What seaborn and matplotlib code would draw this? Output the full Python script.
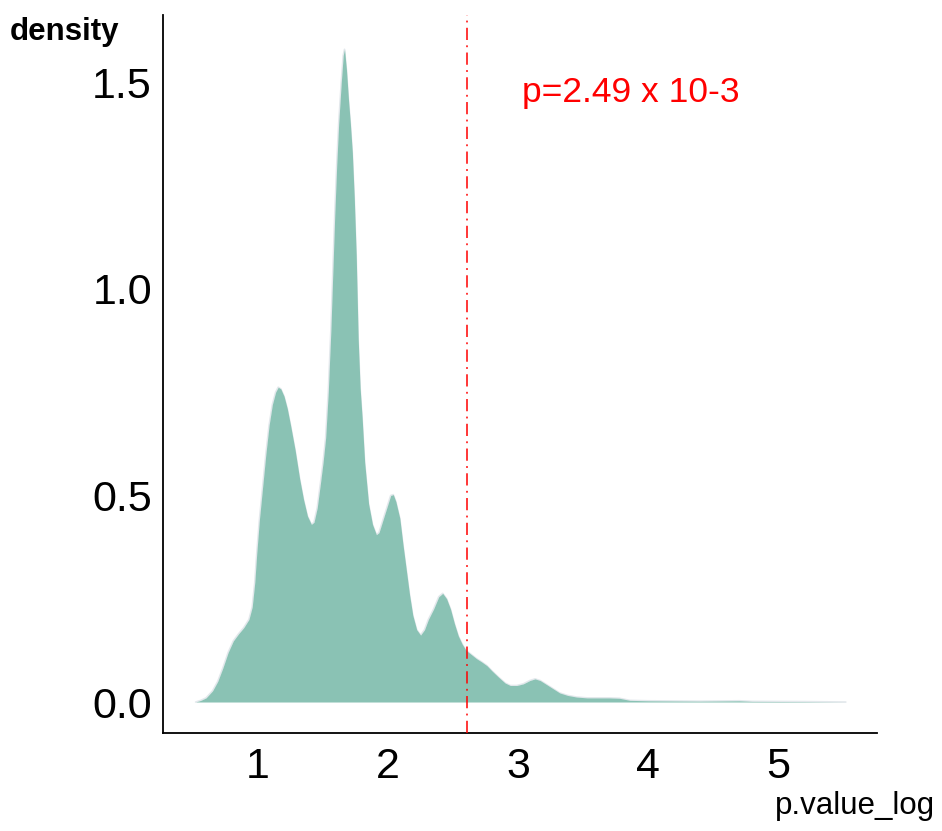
import matplotlib
matplotlib.use("Agg")
import matplotlib.pyplot as plt
import seaborn as sns
import numpy as np
import pandas as pd

# density curve
x_vals = [0.52, 0.56, 0.60, 0.65, 0.69, 0.73, 0.77, 0.81, 0.85, 0.89, 0.93, 0.955,
          0.975, 0.99, 1.01, 1.035, 1.06, 1.085, 1.11, 1.135, 1.155, 1.175, 1.20, 1.225,
          1.25, 1.285, 1.32, 1.35, 1.38, 1.41, 1.43, 1.455, 1.48, 1.50, 1.52, 1.54,
          1.56, 1.575, 1.59, 1.605, 1.62, 1.64, 1.655, 1.665, 1.68, 1.695, 1.71, 1.725,
          1.74, 1.755, 1.77, 1.785, 1.80, 1.82, 1.85, 1.88, 1.91, 1.93, 1.96, 1.99,
          2.02, 2.04, 2.06, 2.09, 2.115, 2.14, 2.165, 2.19, 2.22, 2.25, 2.28, 2.31,
          2.35, 2.39, 2.42, 2.45, 2.48, 2.51, 2.54, 2.57, 2.60, 2.64, 2.68, 2.72,
          2.76, 2.80, 2.85, 2.90, 2.94, 2.99, 3.04, 3.09, 3.13, 3.17, 3.22, 3.27,
          3.32, 3.38, 3.45, 3.53, 3.70, 3.78, 3.86, 4.00, 4.40, 4.70, 4.80, 5.20, 5.52]
y_vals = [0.0, 0.004, 0.010, 0.027, 0.05, 0.083, 0.12, 0.148, 0.165, 0.18, 0.20, 0.23,
          0.29, 0.36, 0.44, 0.52, 0.60, 0.67, 0.72, 0.75, 0.762, 0.758, 0.74, 0.71,
          0.67, 0.61, 0.54, 0.49, 0.45, 0.43, 0.435, 0.47, 0.53, 0.58, 0.64, 0.75,
          0.90, 1.04, 1.18, 1.30, 1.40, 1.50, 1.565, 1.58, 1.53, 1.46, 1.40, 1.33,
          1.22, 1.08, 0.88, 0.76, 0.69, 0.58, 0.48, 0.43, 0.405, 0.41, 0.44, 0.47,
          0.50, 0.502, 0.485, 0.445, 0.38, 0.32, 0.26, 0.21, 0.175, 0.162, 0.175, 0.20,
          0.225, 0.255, 0.263, 0.25, 0.225, 0.19, 0.16, 0.14, 0.125, 0.115, 0.105, 0.097,
          0.088, 0.075, 0.06, 0.046, 0.040, 0.040, 0.044, 0.052, 0.056, 0.052, 0.042, 0.032,
          0.022, 0.016, 0.012, 0.010, 0.010, 0.009, 0.004, 0.003, 0.002, 0.003, 0.0015, 0.001, 0.0]

threshold = 2.608
p_label = "p=2.49 x 10-3"
x_ticks = [1, 2, 3, 4, 5]
y_ticks = [0.0, 0.5, 1.0, 1.5]
y_ticklabels = ["0.0", "0.5", "1.0", "1.5"]

df = pd.DataFrame({"p.value_log": x_vals, "density": y_vals})

sns.set_theme(style="white")
plt.rcParams["font.family"] = ["Liberation Sans", "DejaVu Sans"]

fig = plt.figure(figsize=(9.42, 8.31), dpi=100)
ax = fig.add_axes([163 / 942, 98 / 831, (877 - 163) / 942, (733 - 15) / 831])

fill_col = "#8ac2b4"
ax.fill_between(df["p.value_log"], df["density"], 0, color=fill_col, linewidth=0, zorder=2)
sns.lineplot(data=df, x="p.value_log", y="density", ax=ax, color="#e3e8ec",
             linewidth=1.2, zorder=1, estimator=None, sort=False)

ax.axvline(threshold, color="red", linewidth=1.1, linestyle=(0, (8, 3.5, 1.2, 3.5)), zorder=3)
ax.text(3.03, 1.475, p_label, color="red", fontsize=25.5, ha="left", va="center")

ax.set_xlim(0.269, 5.76)
ax.set_ylim(-0.075, 1.663)
ax.set_xticks(x_ticks)
ax.set_yticks(y_ticks)
ax.set_yticklabels(y_ticklabels)
ax.tick_params(axis="both", length=0, labelsize=31, colors="black")
ax.tick_params(axis="y", pad=8)
ax.tick_params(axis="x", pad=10)
ax.set_xlabel("")
ax.set_ylabel("")
for s in ["top", "right"]:
    ax.spines[s].set_visible(False)
for s in ["left", "bottom"]:
    ax.spines[s].set_visible(True)
    ax.spines[s].set_color("black")
    ax.spines[s].set_linewidth(1.3)

fig.text(10 / 942, 1 - 32 / 831, "density", fontsize=22.5, fontweight="bold",
         ha="left", va="center", color="black")
fig.text(935 / 942, 1 - 806 / 831, "p.value_log", fontsize=22.5,
         ha="right", va="center", color="black")

fig.savefig("out.png", dpi=100)
